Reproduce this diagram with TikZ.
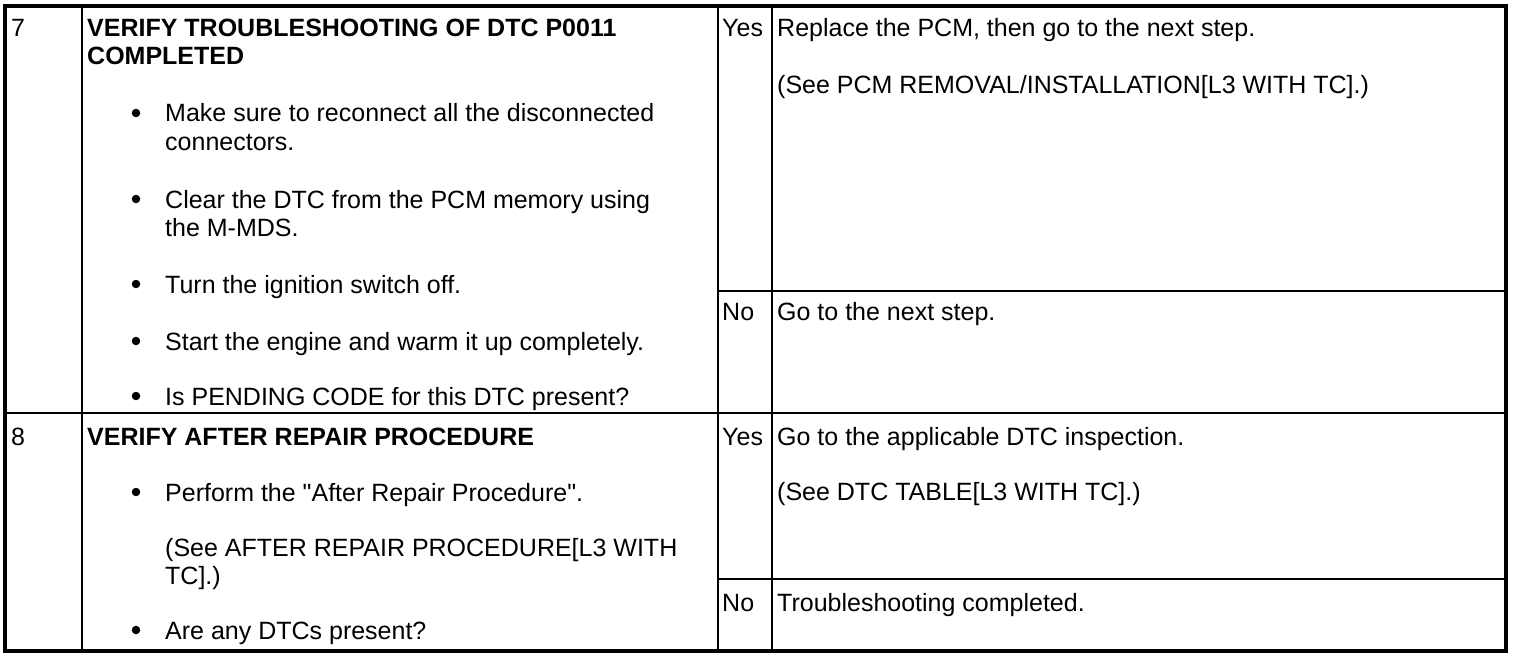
\documentclass[tikz,border=0pt]{standalone}
\usepackage{fontspec}
\setmainfont{Liberation Sans}
\usepackage{tikz}
\usetikzlibrary{positioning}
\tikzset{txt/.style={anchor=base west,inner sep=0pt,font=\fontsize{25}{28}\selectfont},
  hd/.style={txt,font=\fontsize{25}{28}\selectfont\bfseries},
  bul/.style={circle,fill,inner sep=0pt,minimum size=8.5pt}}

\begin{document}
\begin{tikzpicture}[x=1pt,y=-1pt]
  \useasboundingbox (0,0) rectangle (1520,658);

  	\def\xa{5}; \def\xb{82}; \def\xc{718}; \def\xd{772}; \def\xe{1506};
 	\def\ya{6}; \def\yb{413}; \def\yc{651};

	% inner lines of the table
	\draw[line width=1.5pt] (\xb,\ya) -- (\xb,\yc);
	\draw[line width=1.5pt] (\xc,\ya) -- (\xc,\yc);
	\draw[line width=1.5pt] (\xd,\ya) -- (\xd,\yc);
	\draw[line width=1.5pt] (\xa,\yb) -- (\xe,\yb);
	\draw[line width=1.5pt] (\xc,291) -- (\xe,291);
	\draw[line width=1.5pt] (\xc,579) -- (\xe,579);
	\draw[line width=4pt] (\xa,\ya) rectangle (\xe,\yc);

	% step numbers and headings
	\node[txt] (n7) at (11,37) {7};
	\node[txt] (n8) at (11,445) {8};
	\node[hd] (h7a) at (87,37) {VERIFY TROUBLESHOOTING OF DTC P0011};
	\node[hd] (h7b) at (87,65) {COMPLETED};
	\node[hd] (h8) at (87,445) {VERIFY AFTER REPAIR PROCEDURE};

	% bullet lines
       \foreach \name/\y/\t in {s1/122/{Make sure to reconnect all the disconnected},
         s2/150/{connectors.}, s3/208/{Clear the DTC from the PCM memory using},
         s4/236/{the M-MDS.}, s5/293/{Turn the ignition switch off.},
         s6/350/{Start the engine and warm it up completely.},
         s7/405/{Is PENDING CODE for this DTC present?},
         s8/501/{Perform the \textquotedbl After Repair Procedure\textquotedbl.},
         s9/556/{(See AFTER REPAIR PROCEDURE[L3 WITH}, s10/584/{TC].)},
         s11/639/{Are any DTCs present?}} {
         	\node[txt] (\name) at (165,\y) {\t};
   	 }
       \foreach \name/\y in {b1/113,b2/199,b3/284,b4/341,b5/396,b6/492,b7/630} {
         	\node[bul] (\name) at (136,\y) {};
   	 }

	% yes / no answers
       \foreach \name/\y/\a/\t in {r1/37/Yes/{Replace the PCM, then go to the next step.},
         r2/320/No/{Go to the next step.}, r3/445/Yes/{Go to the applicable DTC inspection.},
         r4/611/No/{Troubleshooting completed.}} {
         	\node[txt] (a\name) at (722,\y) {\a};
         	\node[txt] (\name) at (777,\y) {\t};
   	 }
	\node[txt] (r1b) at (777,94) {(See PCM REMOVAL/INSTALLATION[L3 WITH TC].)};
	\node[txt] (r3b) at (777,500) {(See DTC TABLE[L3 WITH TC].)};

\end{tikzpicture}
\end{document}
